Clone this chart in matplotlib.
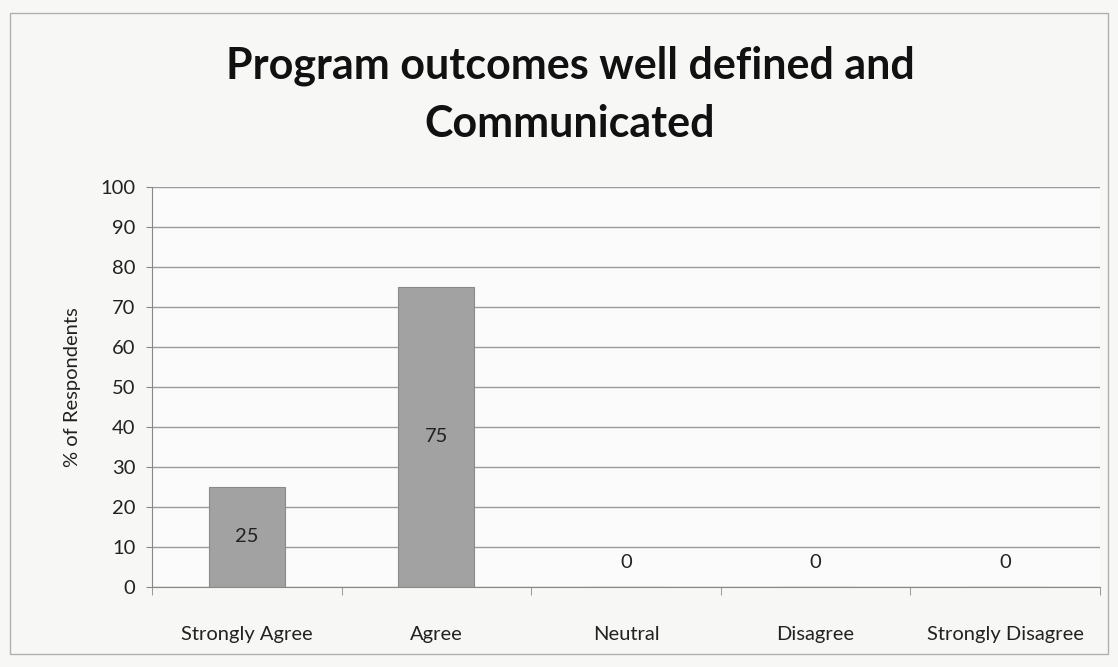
import matplotlib
matplotlib.use("Agg")
import matplotlib.pyplot as plt

categories = ["Strongly Agree", "Agree", "Neutral", "Disagree", "Strongly Disagree"]
percent = [25, 75, 0, 0, 0]
yticks = list(range(0, 101, 10))

plt.rcParams["font.family"] = ["Lato", "DejaVu Sans"]

fig = plt.figure(figsize=(11.18, 6.67), dpi=100, facecolor="#f7f7f5")
ax = fig.add_axes([152 / 1118, 1 - 587 / 667, (1100 - 152) / 1118, 400 / 667])
ax.set_facecolor("#fbfbfb")

x = range(len(categories))
bars = ax.bar(x, percent, width=0.4, color="#a2a2a2", edgecolor="#8a8a8a", linewidth=0.8, zorder=3)
for xi, v in zip(x, percent):
    y = v / 2 if v > 0 else 6
    ax.text(xi, y, str(v), ha="center", va="center", fontsize=14.5, color="#222222", zorder=4)

ax.set_xlim(-0.5, len(categories) - 0.5)
ax.set_ylim(0, 100)
ax.set_yticks(yticks)
ax.set_yticklabels([str(t) for t in yticks], fontsize=14.5, color="#222222")
ax.set_xticks(list(x))
ax.set_xticklabels(categories, fontsize=14.5, color="#222222")
ax.tick_params(axis="x", length=0, pad=28)
ax.tick_params(axis="y", length=4, color="#888888", pad=8)
# category boundary tick marks
ax.set_xticks([i - 0.5 for i in range(len(categories) + 1)], minor=True)
ax.tick_params(axis="x", which="minor", length=6, color="#888888")

ax.grid(axis="y", color="#9a9a9a", linewidth=1.0, zorder=0)
for s in ["top", "right"]:
    ax.spines[s].set_visible(False)
ax.spines["left"].set_color("#888888")
ax.spines["bottom"].set_color("#888888")

ax.set_ylabel("% of Respondents", fontsize=14.5, color="#222222", labelpad=14)

fig.text(570 / 1118, 1 - 95 / 667, "Program outcomes well defined and\nCommunicated",
         ha="center", va="center", fontsize=31, fontweight="bold", color="#111111",
         linespacing=1.55)

fig.add_artist(plt.Rectangle((10 / 1118, 0.02), 1098 / 1118, 0.96, transform=fig.transFigure,
                             fill=False, edgecolor="#b0b0b0", linewidth=1))

fig.savefig("out.png", dpi=100, facecolor=fig.get_facecolor())
